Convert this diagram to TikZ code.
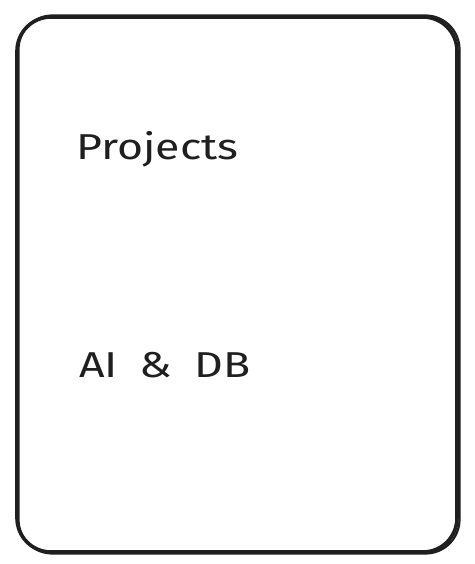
\documentclass[tikz,border=0pt]{standalone}
\usepackage{fontspec}
\setmainfont{Fira Sans}[FakeStretch=1.24]
\begin{document}
\begin{tikzpicture}[x=1pt,y=-1pt,
  sketch/.style={draw=black!88,line width=3.6pt,rounded corners=34pt,line join=round},
  sketch2/.style={draw=black!88,line width=2.2pt,rounded corners=34pt,line join=round},
  label/.style={anchor=base west,inner sep=0pt,font=\fontsize{36}{40}\selectfont,text=black!88}]
\useasboundingbox (0,0) rectangle (474,564);
\fill[white] (0,0) rectangle (474,564);
\draw[sketch] (17,17) rectangle (457,552);
\draw[sketch2] (18.5,15.5) rectangle (459.5,553.5);
\node[label] (projects) at (76,160) {Projects};
\node[label] (aidb) at (79,377) {AI\hspace{22pt}\&\hspace{22pt}DB};
\end{tikzpicture}
\end{document}
